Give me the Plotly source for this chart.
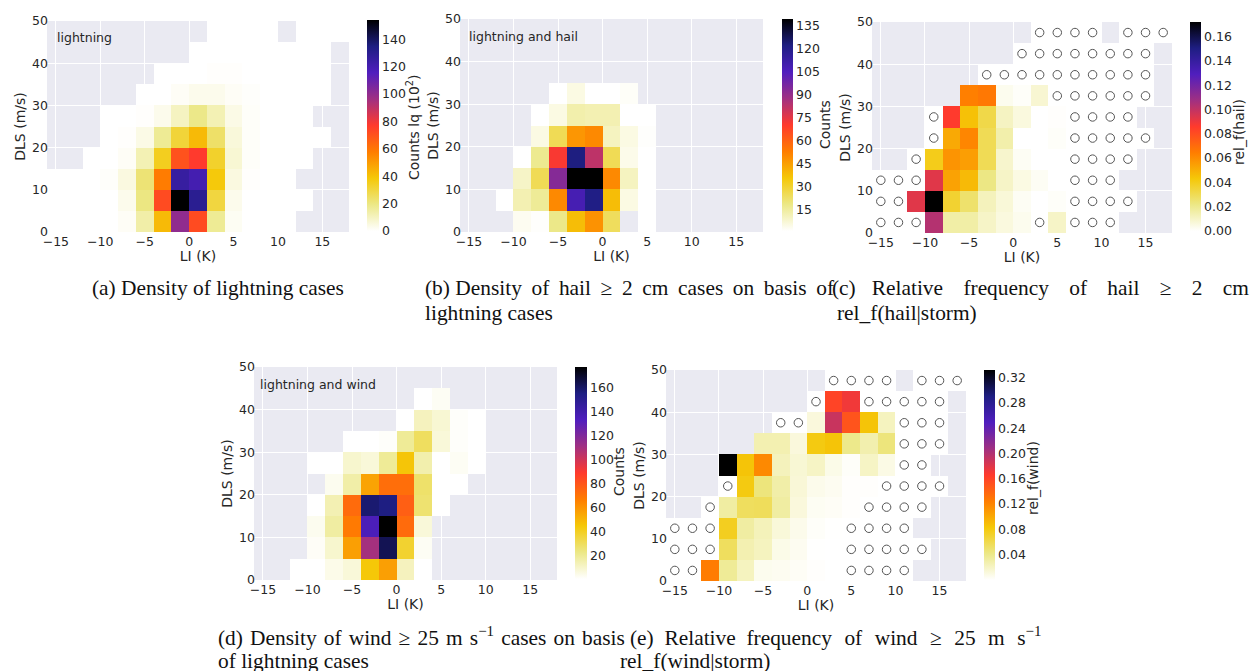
import plotly.graph_objects as go

W, H = 1250, 671
n = None   # no cases at all (grey background shows)
O = -1     # lightning cases but no events: white cell with open circle

li_edges = list(range(-16, 20, 2))
dls_edges = list(range(0, 55, 5))
x_ticks = [-15, -10, -5, 0, 5, 10, 15]
y_ticks = [0, 10, 20, 30, 40, 50]

lightning = [
    [0, 0, 0, 0, 1.5, 14, 42, 100, 72, 17, 2, 0, 0, 0, n, n, n],
    [0, 0, 0, 0, 3, 20, 72, 154, 130, 30, 3, 0, 0, 0, 0, n, n],
    [0, 0, 0, 0.8, 5, 22, 58, 125, 120, 38, 5, 0.5, 0, 0, n, n, n],
    [n, n, 0, 0, 1.5, 12, 35, 70, 77, 33, 7, 1, 0, 0, 0, n, n],
    [n, n, n, 0, 0.5, 4, 17, 31, 42, 24, 6, 1, 0, 0, 0, 0, n],
    [n, n, n, 0, 0, 0.5, 3, 10, 19, 12, 4, 1, 0, 0, 0, n, n],
    [n, n, n, n, n, 0, 0, 1.5, 3, 3, 1.5, 0.7, 0, 0, 0, 0, n],
    [n, n, n, n, n, n, 0, 0, 0, 0.5, 0.5, 0, 0, 0, 0, 0, n],
    [n, n, n, n, n, n, n, n, 0, 0, 0, 0, 0, 0, 0, 0, n],
    [n, n, n, n, n, n, n, n, n, 0, 0, 0, 0, n, 0, 0, 0],
]
hail = [
    [n, n, n, 3, 1.5, 18, 38, 48, 24, n, 0, n, n, n, n, n, n],
    [n, n, 0, 12, 16, 50, 108, 121, 38, 5, 0, n, n, n, n, n, n],
    [n, n, n, 9, 25, 93, 139, 139, 50, 10, 0, n, n, n, n, n, n],
    [n, n, n, 0, 17, 71, 122, 82, 25, 4, 0, n, n, n, n, n, n],
    [n, n, n, n, 5, 25, 47, 50, 10, 5, 1.5, n, n, n, n, n, n],
    [n, n, n, n, 0, 5, 13, 12, 12, 1, 0, n, n, n, n, n, n],
    [n, n, n, n, n, 1, 5, 0, 0, 2, n, n, n, n, n, n, n],
    [n] * 17, [n] * 17, [n] * 17,
]
rel_hail = [
    [O, O, O, .103, .016, .016, .010, .006, .003, O, .010, O, O, O, n, n, n],
    [O, O, .093, .172, .036, .026, .012, .007, .002, 0, .001, O, O, O, O, n, n],
    [O, O, O, .093, .054, .047, .022, .010, .005, .002, 0, O, O, O, n, n, n],
    [n, n, O, .040, .058, .055, .030, .009, .002, 0, 0, O, O, O, O, n, n],
    [n, n, n, O, .052, .062, .030, .015, 0, 0, .001, O, O, O, O, O, n],
    [n, n, n, O, .086, .045, .032, .011, .006, 0, .0005, O, O, O, O, n, n],
    [n, n, n, n, n, .064, .066, .003, .001, .008, O, O, O, O, O, O, n],
    [n, n, n, n, n, n, O, O, O, O, O, O, O, O, O, O, n],
    [n, n, n, n, n, n, n, n, O, O, O, O, O, O, O, O, n],
    [n, n, n, n, n, n, n, n, n, O, O, O, O, n, O, O, O],
]
wind = [
    [n, n, 0, 0.7, 5, 8, 45, 57, 13, 0, n, n, n, n, n, n, n],
    [n, n, n, 2.5, 10, 57, 110, 163, 38, 3, n, n, n, n, n, n, n],
    [n, n, n, 4, 18, 68, 135, 177, 73, 8, n, n, n, n, n, n, n],
    [n, n, n, 0, 15, 73, 158, 155, 77, 27, 1, n, n, n, n, n, n],
    [n, n, n, n, 4, 17, 56, 72, 72, 28, 1, 0, n, n, n, n, n],
    [n, n, n, 0, 0, 10, 8, 20, 46, 16, 1, 3, 0, n, n, n, n],
    [n, n, n, n, n, 0, 0.7, 2, 20, 30, 8, 2, 1, n, n, n, n],
    [n, n, n, n, n, n, n, n, 0, 13, 9, 2, 0, n, n, n, n],
    [n, n, n, n, n, n, n, n, n, 0.8, 3, n, n, n, n, n, n],
    [n] * 17,
]
rel_wind = [
    [O, O, .125, .036, .022, .006, .005, .003, .001, 0, O, O, O, O, n, n, n],
    [O, O, O, .055, .027, .022, .008, .005, .0005, 0, O, O, O, O, O, n, n],
    [O, O, O, .075, .032, .024, .013, .007, .002, .0005, O, O, O, O, n, n, n],
    [n, n, O, .032, .055, .056, .032, .012, .004, .003, .001, O, O, O, O, n, n],
    [n, n, n, O, .080, .045, .030, .014, .007, .005, .001, .001, O, O, O, O, n],
    [n, n, n, .332, .085, .118, .023, .015, .020, .008, .002, .020, .009, O, O, n, n],
    [n, n, n, n, n, .027, .027, .012, .080, .085, .040, .028, .045, O, O, O, n],
    [n, n, n, n, n, n, O, O, .012, .190, .150, .085, .022, O, O, O, n],
    [n, n, n, n, n, n, n, n, O, .160, .172, O, O, O, O, O, n],
    [n, n, n, n, n, n, n, n, n, O, O, O, O, n, O, O, O],
]

colorscale = [
    [0.0, "rgb(255,255,255)"], [0.125, "rgb(236,232,135)"], [0.25, "rgb(245,200,8)"],
    [0.375, "rgb(255,125,0)"], [0.5, "rgb(255,58,45)"], [0.625, "rgb(160,48,130)"],
    [0.75, "rgb(80,30,190)"], [0.875, "rgb(30,30,130)"], [1.0, "rgb(0,0,0)"],
]

TXT = "#262626"
SANS = "DejaVu Sans"
SERIF = "Liberation Serif"

panels = [
    dict(z=lightning, zmin=0, zmax=154, ticks=list(range(0, 160, 20)), fmt="d",
         box=(47, 349, 21, 232), cb=(367, 379, 20, 231), label="lightning", label_x=-15.1,
         cbt="Counts lq (10<sup>2</sup>)", cbt_pos=(413, 127)),
    dict(z=hail, zmin=1, zmax=139, ticks=list(range(15, 150, 15)), fmt="d",
         box=(460, 763, 19, 232), cb=(782, 793, 19, 231), label="lightning and hail", label_x=-15.2,
         cbt="Counts", cbt_pos=(825, 125)),
    dict(z=rel_hail, zmin=0, zmax=.172, ticks=[0, .02, .04, .06, .08, .10, .12, .14, .16], fmt=".2f",
         box=(872, 1172, 22, 233), cb=(1190, 1201, 22, 231), label=None, label_x=None,
         cbt="rel_f(hail)", cbt_pos=(1239, 132)),
    dict(z=wind, zmin=1, zmax=177, ticks=list(range(20, 180, 20)), fmt="d",
         box=(254, 557, 367, 580), cb=(575, 587, 367, 579), label="lightning and wind", label_x=-15.6,
         cbt="Counts", cbt_pos=(619, 472)),
    dict(z=rel_wind, zmin=0, zmax=.332, ticks=[.04, .08, .12, .16, .20, .24, .28, .32], fmt=".2f",
         box=(666, 966, 370, 581), cb=(984, 995, 370, 580), label=None, label_x=None,
         cbt="rel_f(wind)", cbt_pos=(1033, 478)),
]

captions = [
    ("(a) Density of lightning cases", 92, 289),
    ("(b) Density\u2009 of\u2009 hail\u2009 \u2265\u2009 2\u2009 cm\u2009 cases\u2009 on\u2009 basis\u2009 of", 425, 289),
    ("lightning cases", 425, 314),
    ("(c)\u00a0\u00a0 Relative\u00a0\u00a0\u2009 frequency\u00a0\u00a0\u2009 of\u00a0\u00a0\u2009 hail\u00a0\u00a0\u2009 \u2265\u00a0\u00a0\u2009 2\u00a0\u00a0\u2009 cm", 832, 289),
    ("rel_f(hail|storm)", 837, 314),
    ("(d)\u200a Density\u200a of\u200a wind\u200a \u2265\u200a 25\u200a m\u200a s<sup>\u22121</sup>\u200a cases\u200a on\u200a basis", 218, 637),
    ("of lightning cases", 218, 662),
    ("(e)\u00a0 Relative\u00a0 frequency\u00a0\u200a of\u00a0\u200a wind\u00a0\u200a \u2265\u00a0\u200a 25\u00a0\u200a m\u00a0\u200a s<sup>\u22121</sup>", 630, 637),
    ("rel_f(wind|storm)", 620, 662),
]

fig = go.Figure()
annotations = []


def px(v):
    return v / W


def py(v):
    return 1 - v / H


for i, p in enumerate(panels, start=1):
    x0, x1, y0, y1 = p["box"]
    cx0, cx1, cy0, cy1 = p["cb"]
    sfx = "" if i == 1 else str(i)
    centers = [(a + b) / 2 for a, b in zip(li_edges[:-1], li_edges[1:])]
    mids = [(a + b) / 2 for a, b in zip(dls_edges[:-1], dls_edges[1:])]
    z = [[(0 if v == O else v) for v in row] for row in p["z"]]
    fig.add_trace(go.Heatmap(
        x=li_edges, y=dls_edges, z=z, zmin=p["zmin"], zmax=p["zmax"],
        colorscale=colorscale, hoverongaps=False, xaxis=f"x{sfx}", yaxis=f"y{sfx}",
        colorbar=dict(
            x=px(cx0), xanchor="left", xpad=0, ypad=0, thickness=cx1 - cx0,
            thicknessmode="pixels", y=py(cy1), yanchor="bottom",
            len=(cy1 - cy0) / H, lenmode="fraction", outlinewidth=0, borderwidth=0,
            tickmode="array", tickvals=p["ticks"], tickformat=p["fmt"], ticks="",
            tickfont=dict(family=SANS, size=12.5, color=TXT),
        ),
    ))
    cxs, cys = [], []
    for r, row in enumerate(p["z"]):
        for c, v in enumerate(row):
            if v == O:
                cxs.append(centers[c])
                cys.append(mids[r])
    if cxs:
        fig.add_trace(go.Scatter(
            x=cxs, y=cys, mode="markers", xaxis=f"x{sfx}", yaxis=f"y{sfx}", showlegend=False,
            marker=dict(symbol="circle-open", size=8.5, color="#555555", line=dict(width=1, color="#555555")),
        ))
    fig.update_layout({
        f"xaxis{sfx}": dict(
            domain=[px(x0), px(x1)], anchor=f"y{sfx}", range=[-16, 18], tickmode="array",
            tickvals=x_ticks, showgrid=True, gridcolor="white", gridwidth=1, zeroline=False,
            showline=False, ticks="", tickfont=dict(family=SANS, size=12.5, color=TXT),
            title=dict(text="LI (K)", font=dict(family=SANS, size=14, color=TXT), standoff=1),
        ),
        f"yaxis{sfx}": dict(
            domain=[py(y1), py(y0)], anchor=f"x{sfx}", range=[0, 50], tickmode="array",
            tickvals=y_ticks, showgrid=True, gridcolor="white", gridwidth=1, zeroline=False,
            showline=False, ticks="", ticklabelstandoff=-2,
            tickfont=dict(family=SANS, size=12.5, color=TXT),
            title=dict(text="DLS (m/s)", font=dict(family=SANS, size=14, color=TXT), standoff=3),
        ),
    })
    if p["label"]:
        annotations.append(dict(
            x=p["label_x"], y=46, xref=f"x{sfx}", yref=f"y{sfx}", text=p["label"], showarrow=False,
            xanchor="left", yanchor="middle", font=dict(family=SANS, size=12.5, color=TXT),
        ))
    annotations.append(dict(
        x=px(p["cbt_pos"][0]), y=py(p["cbt_pos"][1]), xref="paper", yref="paper",
        text=p["cbt"], textangle=-90, showarrow=False, xanchor="center", yanchor="middle",
        font=dict(family=SANS, size=14, color=TXT),
    ))

for text, x, y in captions:
    annotations.append(dict(
        x=px(x - 1), y=py(y - 1), xref="paper", yref="paper", text=text, showarrow=False,
        xanchor="left", yanchor="middle", borderpad=0,
        font=dict(family=SERIF, size=21.4, color="#111111"),
    ))

fig.update_layout(
    width=W, height=H, margin=dict(l=0, r=0, t=0, b=0, autoexpand=False), autosize=False,
    paper_bgcolor="white", plot_bgcolor="#EAEAF2", showlegend=False,
    annotations=annotations,
)
fig.write_html("out.html", config={"displayModeBar": False},
               post_script="document.body.style.margin='0';document.body.style.overflow='hidden';")
